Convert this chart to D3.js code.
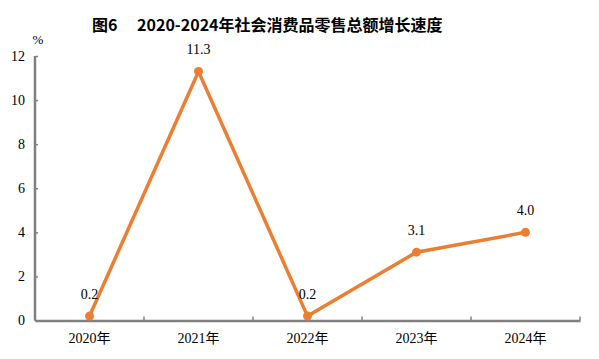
<!DOCTYPE html>
<html>
<head>
<meta charset="utf-8">
<script src="https://cdn.jsdelivr.net/npm/d3@7"></script>
<style>
  body { margin: 0; background: #fff; }
  text { font-family: "Liberation Serif", "Noto Sans CJK SC", serif; }
</style>
</head>
<body>
<div id="chart"></div>
<script>
const years = ['2020年', '2021年', '2022年', '2023年', '2024年'];
const growth = [0.2, 11.3, 0.2, 3.1, 4.0];
const growthLabels = ['0.2', '11.3', '0.2', '3.1', '4.0'];
const yTicks = [0, 2, 4, 6, 8, 10, 12];

const width = 599, height = 359;
const margin = { top: 56, right: 19, bottom: 38.5, left: 35 };

const svg = d3.select('#chart')
  .append('svg')
  .attr('width', width)
  .attr('height', height);

// title
svg.append('text')
  .attr('x', 92)
  .attr('y', 31)
  .style('font-family', '"Noto Sans CJK SC", sans-serif')
  .style('font-weight', 'bold')
  .style('font-size', '16px')
  .text('图6\u3000 2020-2024年社会消费品零售总额增长速度');

const x = d3.scaleBand()
  .domain(years)
  .range([margin.left, width - margin.right]);

const y = d3.scaleLinear()
  .domain([0, 12])
  .range([height - margin.bottom, margin.top]);

// y axis
const yAxis = svg.append('g')
  .attr('transform', `translate(${margin.left},0)`)
  .call(d3.axisLeft(y).tickValues(yTicks).tickSize(-3).tickPadding(10).tickFormat(d3.format('d')));

// x axis
const xAxis = svg.append('g')
  .attr('transform', `translate(0,${y(0)})`)
  .call(d3.axisBottom(x).tickSize(0).tickPadding(13));

// boundary ticks between categories pointing up
const bounds = years.map((d) => x(d) + x.bandwidth()).concat([x(years[0])]);
svg.append('g')
  .selectAll('line')
  .data(bounds)
  .join('line')
  .attr('x1', (d) => d)
  .attr('x2', (d) => d)
  .attr('y1', y(0))
  .attr('y2', y(0) - 4)
  .attr('stroke', '#808080')
  .attr('stroke-width', 1.5);

[yAxis, xAxis].forEach((g) => {
  g.select('.domain').attr('stroke', '#808080').attr('stroke-width', 2.5);
  g.selectAll('.tick line').attr('stroke', '#808080').attr('stroke-width', 1.5);
  g.selectAll('.tick text')
    .style('font-size', '14px')
    .attr('fill', '#000');
});
yAxis.select('.domain').attr('d', `M0,${y(0)}V${y(12)}`);

// unit label
svg.append('text')
  .attr('x', 38)
  .attr('y', 44)
  .attr('text-anchor', 'middle')
  .style('font-size', '13px')
  .text('%');

const data = years.map((d, i) => ({ year: d, value: growth[i], label: growthLabels[i] }));
const cx = (d) => x(d.year) + x.bandwidth() / 2;

const line = d3.line()
  .x(cx)
  .y((d) => y(d.value));

svg.append('path')
  .datum(data)
  .attr('d', line)
  .attr('fill', 'none')
  .attr('stroke', '#ED7D31')
  .attr('stroke-width', 3.5)
  .attr('stroke-linejoin', 'miter');

svg.append('g')
  .selectAll('circle')
  .data(data)
  .join('circle')
  .attr('cx', cx)
  .attr('cy', (d) => y(d.value))
  .attr('r', 4.5)
  .attr('fill', '#ED7D31');

svg.append('g')
  .selectAll('text')
  .data(data)
  .join('text')
  .attr('x', cx)
  .attr('y', (d) => y(d.value) - 17)
  .attr('text-anchor', 'middle')
  .style('font-size', '14px')
  .text((d) => d.label);
</script>
</body>
</html>
